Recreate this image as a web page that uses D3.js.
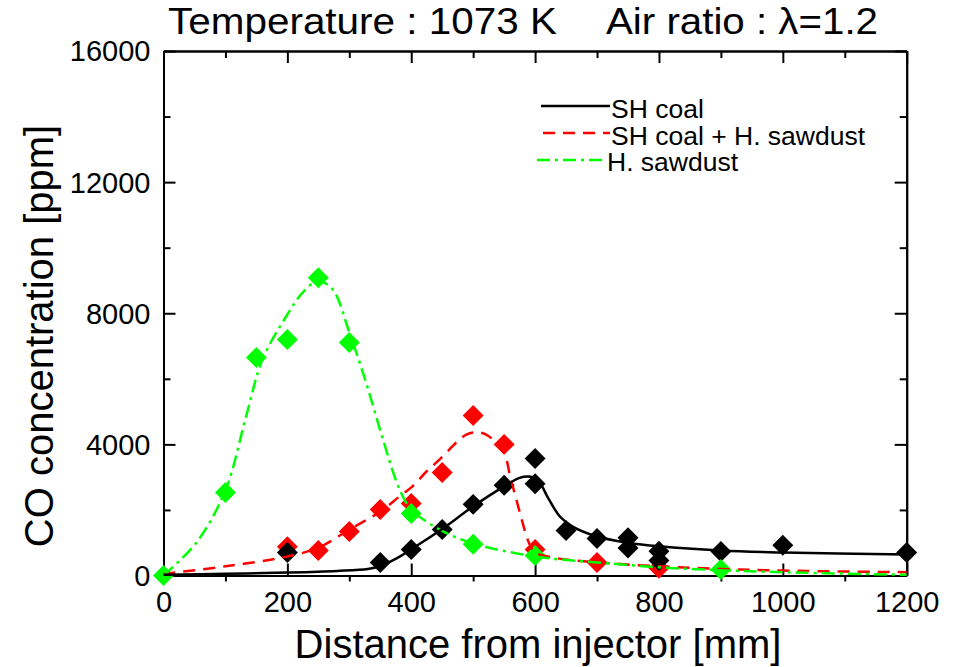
<!DOCTYPE html>
<html>
<head>
<meta charset="utf-8">
<script src="https://cdn.jsdelivr.net/npm/d3@7"></script>
<style>
  body { margin: 0; background: #fff; }
  svg { display: block; font-family: "Liberation Sans", Arial, Helvetica, sans-serif; }
  .axis path, .axis line { stroke: #000; stroke-width: 2px; }
  .axis text { font-size: 29px; fill: #000; font-family: "Liberation Sans", Arial, sans-serif; }
</style>
</head>
<body>
<svg id="chart" width="958" height="667"></svg>
<script>
// measured points
const coalX = [200, 350, 400, 450, 500, 550, 600, 600, 650, 700, 750, 750, 800, 800, 900, 1000, 1200];
const coalY = [700, 400, 790, 1400, 2170, 2750, 3570, 2800, 1370, 1130, 1150, 840, 740, 460, 730, 920, 700];

const mixX = [200, 250, 300, 350, 400, 450, 500, 550, 600, 700, 800];
const mixY = [880, 760, 1340, 2010, 2200, 3140, 4880, 4000, 790, 400, 220];

const sawX = [0, 100, 150, 200, 250, 300, 400, 500, 600, 900];
const sawY = [0, 2530, 6650, 7200, 9080, 7110, 1890, 950, 610, 180];

// fitted curves
const coalFitX = [0, 100, 200, 280, 330, 350, 380, 400, 450, 500, 550, 575, 590, 605, 620, 640, 660, 700, 750, 800, 900, 1000, 1200];
const coalFitY = [20, 50, 90, 140, 200, 290, 560, 800, 1420, 2110, 2720, 2980, 3020, 2900, 2400, 1800, 1500, 1190, 1000, 890, 760, 700, 640];

const mixFitX = [0, 100, 200, 250, 300, 350, 381, 402, 425, 446, 473, 489, 505, 521, 535, 550, 560, 570, 580, 590, 600, 620, 650, 700, 800, 900, 1000, 1200];
const mixFitY = [50, 280, 580, 850, 1400, 1950, 2410, 2720, 3180, 3540, 4060, 4300, 4370, 4300, 4090, 3750, 3000, 2300, 1600, 1000, 700, 580, 490, 400, 280, 200, 150, 100];

const sawFitX = [0, 53, 100, 134, 160, 198, 225, 249, 273, 300, 327, 353, 381, 400, 446, 500, 600, 700, 800, 900, 1000, 1200];
const sawFitY = [0, 1000, 2600, 4900, 6600, 7900, 8640, 8980, 8730, 7420, 5890, 4240, 2630, 2020, 1400, 980, 580, 400, 250, 160, 100, 20];

const xMajor = [0, 200, 400, 600, 800, 1000, 1200];
const xMinor = [100, 300, 500, 700, 900, 1100];
const yMajor = [0, 4000, 8000, 12000, 16000];
const yMinor = [2000, 6000, 10000, 14000];

const seriesNames = ['SH coal', 'SH coal + H. sawdust', 'H. sawdust'];
const titleLeft = 'Temperature : 1073 K';
const titleRight = 'Air ratio : \u03bb=1.2';
const xTitle = 'Distance from injector [mm]';
const yTitle = 'CO concentration [ppm]';

const svg = d3.select('#chart');
svg.append('rect').attr('width', 958).attr('height', 667).attr('fill', '#fff');

const plotLeft = 163.5, plotRight = 906.7, plotTop = 51, plotBottom = 575.5;

let x = d3.scaleLinear().domain([0, 1200]).range([plotLeft, plotRight]);
let y = d3.scaleLinear().domain([0, 16000]).range([plotBottom, plotTop]);

// axes: major ticks inward, bottom minor ticks outward
svg.append('g').attr('class', 'axis')
    .attr('transform', `translate(0, ${plotBottom})`)
    .call(d3.axisBottom(x).tickValues(xMajor).tickSizeInner(-12).tickSizeOuter(0).tickPadding(16).tickFormat(d3.format('d')));
svg.append('g').attr('class', 'axis')
    .attr('transform', `translate(0, ${plotBottom})`)
    .call(d3.axisBottom(x).tickValues(xMinor).tickSizeInner(6).tickSizeOuter(0).tickFormat(''));

svg.append('g').attr('class', 'axis')
    .attr('transform', `translate(${plotLeft}, 0)`)
    .call(d3.axisLeft(y).tickValues(yMajor).tickSizeInner(-12).tickSizeOuter(0).tickPadding(13).tickFormat(d3.format('d')))
    .selectAll('text').attr('dy', '0.34em');
svg.append('g').attr('class', 'axis')
    .attr('transform', `translate(${plotLeft}, 0)`)
    .call(d3.axisLeft(y).tickValues(yMinor).tickSizeInner(-7).tickSizeOuter(0).tickFormat(''));

svg.append('g').attr('class', 'axis')
    .attr('transform', `translate(0, ${plotTop})`)
    .call(d3.axisTop(x).tickValues(xMajor).tickSizeInner(-12).tickSizeOuter(0).tickFormat(''));
svg.append('g').attr('class', 'axis')
    .attr('transform', `translate(0, ${plotTop})`)
    .call(d3.axisTop(x).tickValues(xMinor).tickSizeInner(-7).tickSizeOuter(0).tickFormat(''));

svg.append('g').attr('class', 'axis')
    .attr('transform', `translate(${plotRight}, 0)`)
    .call(d3.axisRight(y).tickValues(yMajor).tickSizeInner(-12).tickSizeOuter(0).tickFormat(''));
svg.append('g').attr('class', 'axis')
    .attr('transform', `translate(${plotRight}, 0)`)
    .call(d3.axisRight(y).tickValues(yMinor).tickSizeInner(-7).tickSizeOuter(0).tickFormat(''));

// markers
const diamond = d3.symbol().type(d3.symbolSquare).size(220);
function markers(xs, ys, color) {
    svg.append('g').selectAll('path')
        .data(xs.map((d, i) => ({x: d, y: ys[i]})))
        .enter()
            .append('path')
            .attr('d', diamond)
            .attr('transform', d => `translate(${x(d.x)}, ${y(d.y)}) rotate(45)`)
            .attr('fill', color);
}
markers(mixX, mixY, '#ff0000');
markers(coalX, coalY, '#000000');
markers(sawX, sawY, '#00ff00');

// fitted lines
function fitLine(xs, ys, color, dash, w) {
    let line = d3.line()
        .x(d => x(d[0]))
        .y(d => y(d[1]))
        .curve(d3.curveCatmullRom.alpha(0.5));
    svg.append('path')
        .datum(xs.map((d, i) => [d, ys[i]]))
        .attr('d', line)
        .attr('fill', 'none')
        .attr('stroke', color)
        .attr('stroke-width', w)
        .attr('stroke-dasharray', dash);
}
fitLine(mixFitX, mixFitY, '#ff0000', '12,8', 2.5);
fitLine(sawFitX, sawFitY, '#00ff00', '13,5,3,5', 2.5);
fitLine(coalFitX, coalFitY, '#000000', null, 2.5);

// legend
const legendStyle = [
    {color: '#000', dash: null, x1: 541, x2: 610, ly: 106, tx: 611, ty: 118},
    {color: '#ff0000', dash: '12,8', x1: 543, x2: 610, ly: 133, tx: 611, ty: 145},
    {color: '#00ff00', dash: '13,5,3,5', x1: 537, x2: 606, ly: 160, tx: 607, ty: 171}
];
legendStyle.forEach((s, i) => {
    svg.append('line')
        .attr('x1', s.x1).attr('x2', s.x2).attr('y1', s.ly).attr('y2', s.ly)
        .attr('stroke', s.color).attr('stroke-width', 2.5)
        .attr('stroke-dasharray', s.dash);
    svg.append('text')
        .attr('x', s.tx).attr('y', s.ty)
        .text(seriesNames[i])
        .style('font-size', '26.5px').style('fill', '#000');
});

// titles
svg.append('text')
    .attr('x', 168).attr('y', 34)
    .attr('textLength', 389).attr('lengthAdjust', 'spacingAndGlyphs')
    .style('font-size', '37px')
    .text(titleLeft);
svg.append('text')
    .attr('x', 606).attr('y', 34)
    .attr('textLength', 272).attr('lengthAdjust', 'spacingAndGlyphs')
    .style('font-size', '37px')
    .text(titleRight);

svg.append('text')
    .attr('x', 538).attr('y', 658)
    .attr('text-anchor', 'middle')
    .style('font-size', '40px')
    .text(xTitle);

svg.append('text')
    .attr('transform', 'translate(53, 336) rotate(-90)')
    .attr('text-anchor', 'middle')
    .style('font-size', '40px')
    .text(yTitle);
</script>
</body>
</html>
